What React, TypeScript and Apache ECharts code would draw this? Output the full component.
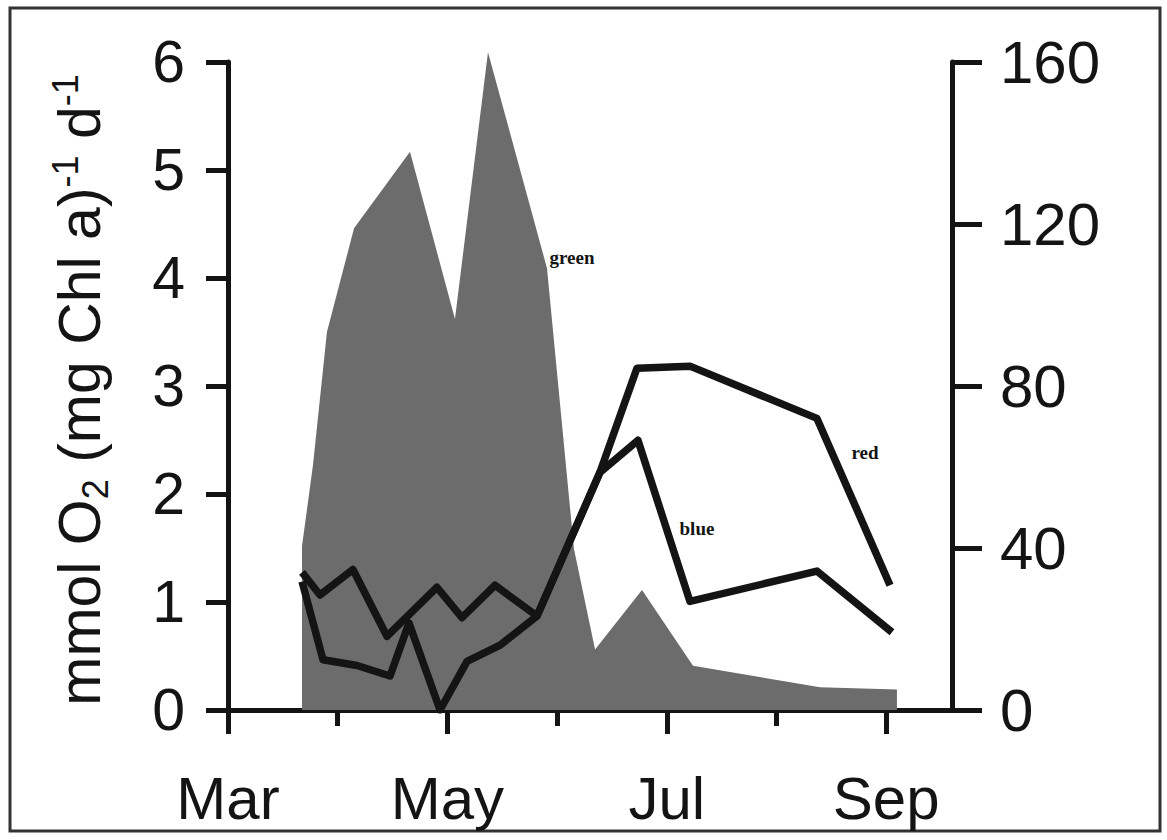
import React, { useEffect, useRef } from "react";
import * as echarts from "echarts";

// x positions are months after 1 March (Mar = 0, Apr = 1, ...)
const months = ["Mar", "Apr", "May", "Jun", "Jul", "Aug", "Sep"];
const monthTicks = [0, 1, 2, 3, 4, 5, 6];
const majorTicks = [0, 2, 4, 6];

// green area, left axis, mmol O2 (mg Chl a)-1 d-1
const greenX = [0.675, 0.775, 0.902, 1.149, 1.659, 2.069, 2.37, 2.908, 3.154, 3.346, 3.774, 4.239, 5.397, 6.098];
const greenY = [1.52, 2.27, 3.5, 4.46, 5.17, 3.62, 6.09, 4.09, 1.49, 0.56, 1.11, 0.41, 0.21, 0.19];

// red line, right axis
const redX = [0.675, 0.839, 1.139, 1.449, 1.905, 2.133, 2.434, 2.817, 3.391, 3.728, 4.211, 5.369, 6.035];
const redY = [34, 28.4, 34.7, 18.2, 30.3, 22.8, 30.8, 23.2, 58.7, 84.4, 84.9, 72.0, 30.8];

// blue line, right axis
const blueX = [0.675, 0.866, 1.176, 1.477, 1.65, 1.933, 2.179, 2.48, 2.817, 3.391, 3.737, 4.211, 5.369, 6.053];
const blueY = [31.7, 12.4, 11.0, 8.4, 21.5, 0, 12.0, 16.0, 23.2, 58.7, 66.6, 26.8, 34.3, 19.2];

// annotation anchors [month, value]
const greenLabelAt = [3.136, 4.19];
const blueLabelAt = [4.275, 44.7];
const redLabelAt = [5.807, 63.6];

const leftTicks = { min: 0, max: 6, interval: 1 };
const rightTicks = { min: 0, max: 160, interval: 40 };
const xRange = { min: 0, max: 6.6 };

const INK = "#141414";
const SANS = "Liberation Sans, Arial, sans-serif";
const SERIF = "Liberation Serif, Times New Roman, serif";

const zip = (xs: number[], ys: number[]) => xs.map((x, i) => [x, ys[i]]);

const annot = (text: string, coord: number[]) => ({
  symbol: "circle",
  symbolSize: 1,
  silent: true,
  itemStyle: { color: "rgba(0,0,0,0)" },
  label: {
    show: true,
    position: "inside",
    formatter: text,
    color: INK,
    fontFamily: SERIF,
    fontWeight: "bold",
    fontSize: 19,
  },
  data: [{ coord }],
});

export default function App() {
  const ref = useRef<HTMLDivElement>(null);

  useEffect(() => {
    if (!ref.current) return;
    const chart = echarts.init(ref.current, undefined, { renderer: "svg" });
    chart.setOption({
      animation: false,
      backgroundColor: "#ffffff",
      grid: { left: 228, right: 215, top: 62, bottom: 130 },
      xAxis: [
        {
          type: "value",
          min: xRange.min,
          max: xRange.max,
          interval: 1,
          splitLine: { show: false },
          axisLine: { show: true, onZero: false, lineStyle: { color: INK, width: 5 } },
          axisTick: {
            show: true,
            customValues: monthTicks,
            length: 16,
            lineStyle: { color: INK, width: 5 },
          },
          axisLabel: {
            customValues: majorTicks,
            formatter: (v: number) => months[Math.round(v)] ?? "",
            margin: 58,
            color: INK,
            fontFamily: SANS,
            fontSize: 60,
          },
        },
        {
          type: "value",
          position: "bottom",
          min: xRange.min,
          max: xRange.max,
          interval: 1,
          splitLine: { show: false },
          axisLine: { show: false, onZero: false },
          axisTick: {
            show: true,
            customValues: majorTicks,
            length: 24,
            lineStyle: { color: INK, width: 5 },
          },
          axisLabel: { show: false },
        },
      ],
      yAxis: [
        {
          type: "value",
          position: "left",
          min: leftTicks.min,
          max: leftTicks.max,
          interval: leftTicks.interval,
          splitLine: { show: false },
          axisLine: { show: true, onZero: false, lineStyle: { color: INK, width: 5 } },
          axisTick: { show: true, length: 22, lineStyle: { color: INK, width: 5 } },
          axisLabel: { margin: 43, color: INK, fontFamily: SANS, fontSize: 59 },
        },
        {
          type: "value",
          position: "right",
          min: rightTicks.min,
          max: rightTicks.max,
          interval: rightTicks.interval,
          splitLine: { show: false },
          axisLine: { show: true, onZero: false, lineStyle: { color: INK, width: 5 } },
          axisTick: { show: true, length: 30, lineStyle: { color: INK, width: 5 } },
          axisLabel: { margin: 48, color: INK, fontFamily: SANS, fontSize: 60 },
        },
      ],
      series: [
        {
          name: "green",
          type: "line",
          xAxisIndex: 0,
          yAxisIndex: 0,
          data: zip(greenX, greenY),
          symbol: "none",
          clip: false,
          lineStyle: { width: 0 },
          areaStyle: { color: "#6c6c6c", opacity: 1 },
          markPoint: annot("green", greenLabelAt),
          z: 1,
        },
        {
          name: "blue",
          type: "line",
          xAxisIndex: 0,
          yAxisIndex: 1,
          data: zip(blueX, blueY),
          symbol: "none",
          lineStyle: { color: INK, width: 7.5, join: "round" },
          markPoint: annot("blue", blueLabelAt),
          z: 3,
        },
        {
          name: "red",
          type: "line",
          xAxisIndex: 0,
          yAxisIndex: 1,
          data: zip(redX, redY),
          symbol: "none",
          lineStyle: { color: INK, width: 7.5, join: "round" },
          markPoint: annot("red", redLabelAt),
          z: 3,
        },
      ],
      graphic: [
        {
          type: "rect",
          shape: { x: 10, y: 8, width: 1150, height: 823 },
          style: { fill: "none", stroke: "#333", lineWidth: 3 },
          silent: true,
        },
        {
          type: "text",
          x: 80,
          y: 390,
          rotation: Math.PI / 2,
          style: {
            text: "{a|mmol O}{s|2}{a| (mg Chl a)}{p|-1}{a| d}{p|-1}",
            align: "center",
            verticalAlign: "middle",
            rich: {
              a: { fontFamily: SANS, fontSize: 59, lineHeight: 66, fill: INK, color: INK },
              s: { fontFamily: SANS, fontSize: 36, lineHeight: 36, verticalAlign: "bottom", fill: INK, color: INK },
              p: { fontFamily: SANS, fontSize: 36, lineHeight: 36, verticalAlign: "top", fill: INK, color: INK },
            },
          },
          silent: true,
        },
      ],
    });
    return () => chart.dispose();
  }, []);

  return (
    <div
      ref={ref}
      style={{ position: "fixed", left: 0, top: 0, width: 1167, height: 840, background: "#fff" }}
    />
  );
}
